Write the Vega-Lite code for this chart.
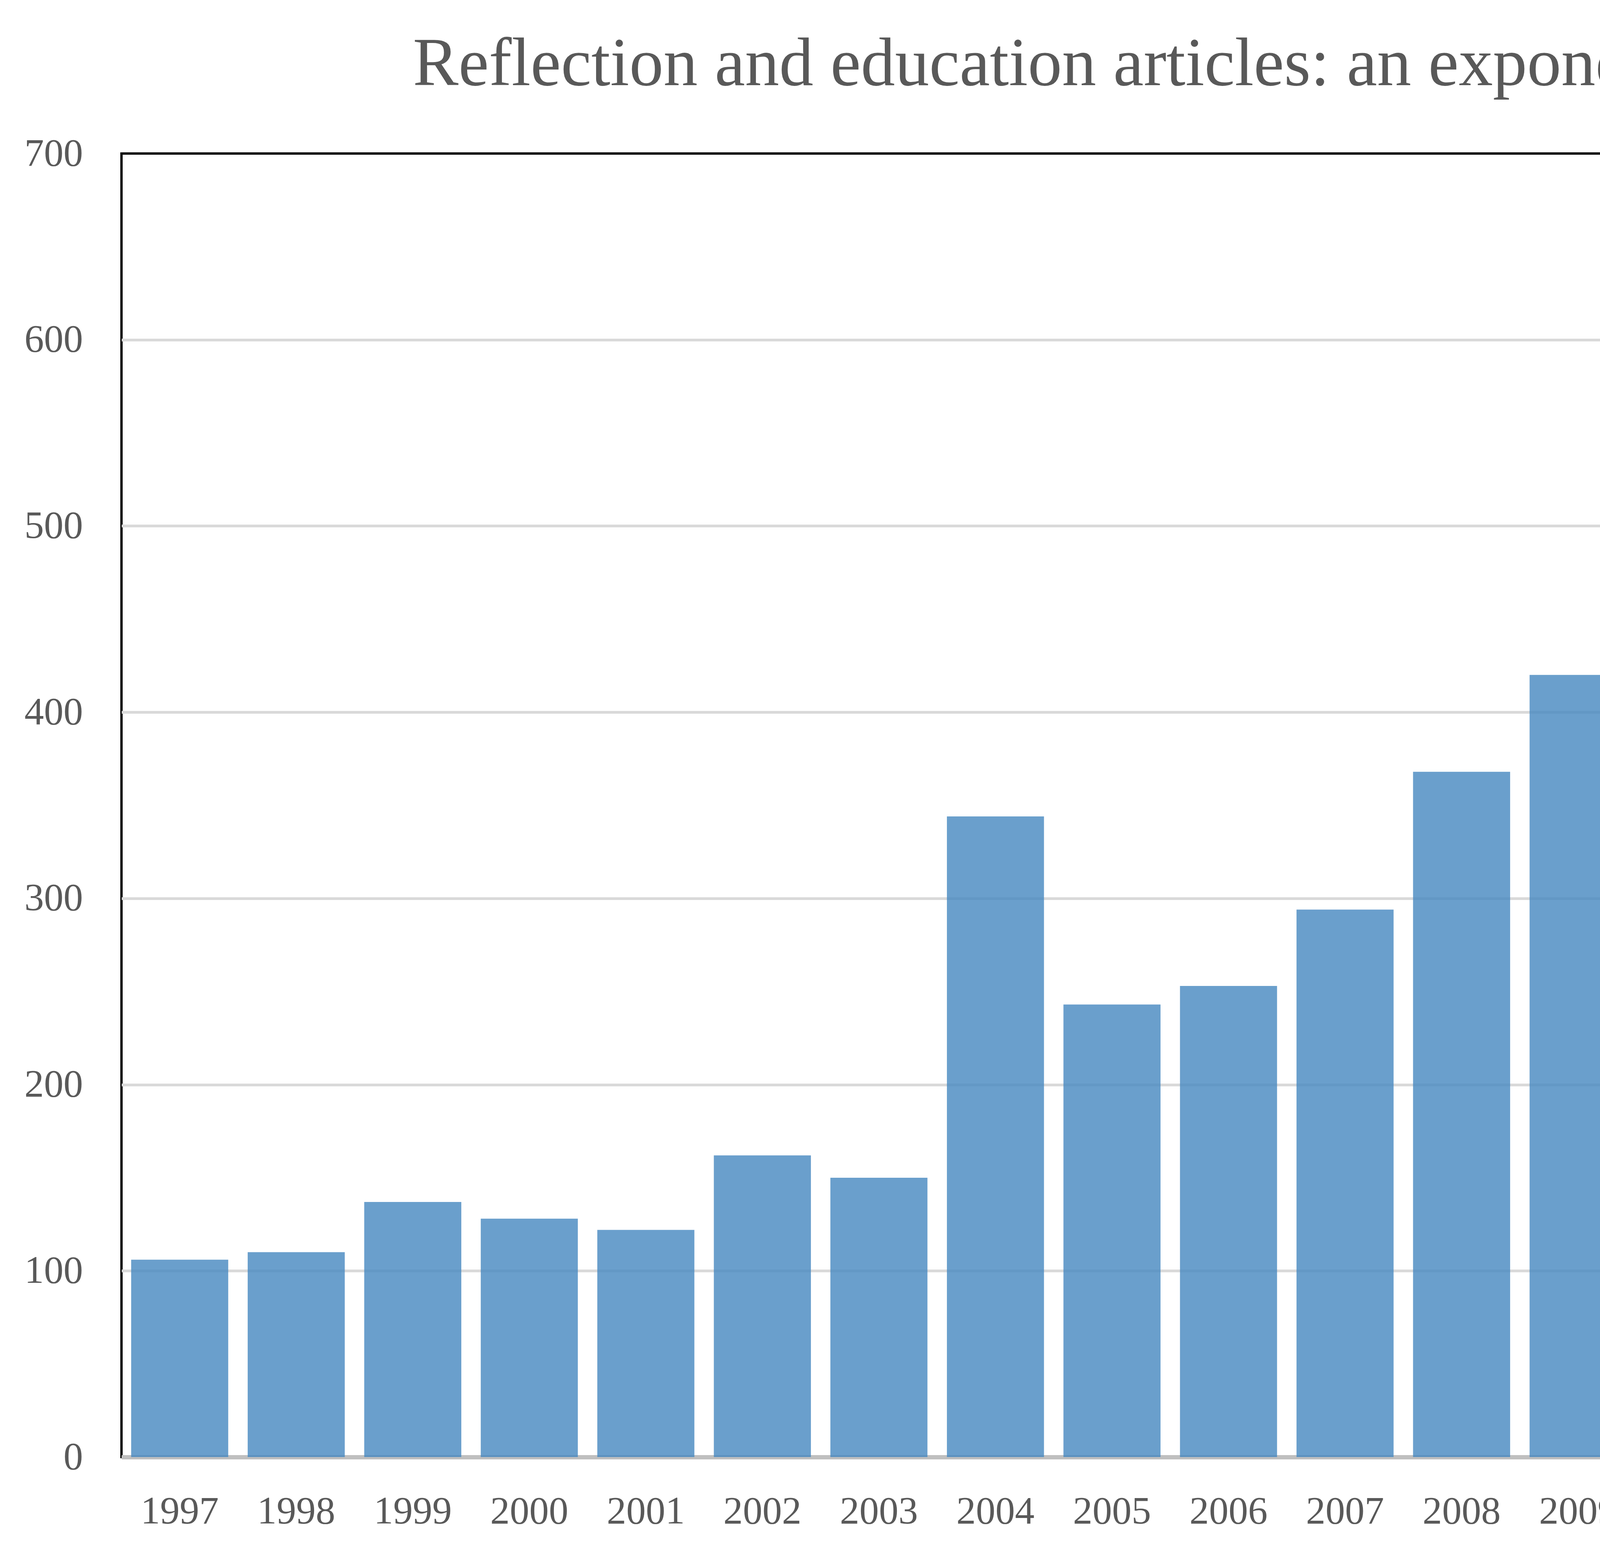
{
  "$schema": "https://vega.github.io/schema/vega-lite/v6.json",
  "description": "Reflection and education articles per year, 1997-2015.",
  "autosize": {"type": "none"},
  "padding": {"left": 311, "top": 393, "right": 106, "bottom": 261},
  "width": 5668,
  "height": 3337,
  "background": "white",

  "title": {
    "text": "Reflection and education articles: an exponential increase",
    "font": "Liberation Serif",
    "fontSize": 175,
    "fontWeight": "normal",
    "color": "#595959",
    "anchor": "start",
    "frame": "group",
    "baseline": "alphabetic",
    "offset": -50,
    "dx": 746
  },

  "config": {
    "view": {"stroke": "black", "strokeWidth": 6},
    "axis": {
      "labelFont": "Liberation Serif",
      "labelFontSize": 100,
      "labelColor": "#595959",
      "labelLimit": 1000,
      "ticks": false,
      "title": null
    }
  },

  "data": {
    "values": [
      {"year": "1997", "articles": 106},
      {"year": "1998", "articles": 110},
      {"year": "1999", "articles": 137},
      {"year": "2000", "articles": 128},
      {"year": "2001", "articles": 122},
      {"year": "2002", "articles": 162},
      {"year": "2003", "articles": 150},
      {"year": "2004", "articles": 344},
      {"year": "2005", "articles": 243},
      {"year": "2006", "articles": 253},
      {"year": "2007", "articles": 294},
      {"year": "2008", "articles": 368},
      {"year": "2009", "articles": 420},
      {"year": "2010", "articles": 450},
      {"year": "2011", "articles": 510},
      {"year": "2012", "articles": 526},
      {"year": "2013", "articles": 581},
      {"year": "2014", "articles": 563},
      {"year": "2015", "articles": 524}
    ]
  },

  "mark": {"type": "bar", "color": "#4587bf", "opacity": 0.8},

  "encoding": {
    "x": {
      "field": "year",
      "type": "ordinal",
      "scale": {"paddingInner": 0.167, "paddingOuter": 0.083},
      "axis": {
        "labelAngle": 0,
        "labelPadding": 90,
        "domain": true,
        "domainColor": "#bfbfbf",
        "domainWidth": 11,
        "grid": false
      }
    },
    "y": {
      "field": "articles",
      "type": "quantitative",
      "scale": {"domain": [0, 700], "nice": false},
      "axis": {
        "values": [0, 100, 200, 300, 400, 500, 600, 700],
        "labelPadding": 99,
        "domain": false,
        "grid": true,
        "gridColor": "#d9d9d9",
        "gridWidth": 7,
        "gridOpacity": {"condition": {"test": "datum.value === 700", "value": 0}, "value": 1}
      }
    }
  }
}
